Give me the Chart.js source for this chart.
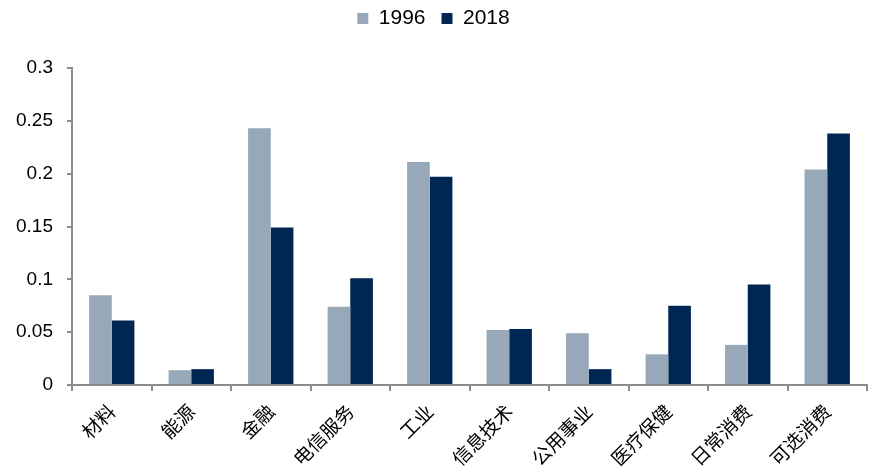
<!DOCTYPE html>
<html>
<head>
<meta charset="utf-8">
<script src="https://cdn.jsdelivr.net/npm/chart.js@4/dist/chart.umd.min.js"></script>
<style>
  body { margin: 0; background: #fff; }
  #wrap { width: 874px; height: 471px; }
</style>
</head>
<body>
<div id="wrap"><canvas id="sector-chart" width="874" height="471"></canvas></div>
<script>
// Sectors and weights per year
const sectors = ['材料', '能源', '金融', '电信服务', '工业', '信息技术', '公用事业', '医疗保健', '日常消费', '可选消费'];
const weights1996 = [0.085, 0.014, 0.243, 0.074, 0.211, 0.052, 0.049, 0.029, 0.038, 0.204];
const weights2018 = [0.061, 0.015, 0.149, 0.101, 0.197, 0.053, 0.015, 0.075, 0.095, 0.238];
const yTicks = [0, 0.05, 0.1, 0.15, 0.2, 0.25, 0.3];

const axisColor = '#8c8c8c';
const numFont = 'Arial, "Liberation Sans", sans-serif';

// Extra gap under the legend row
const legendGap = {
    id: 'legendGap',
    beforeUpdate(chart) {
        const legend = chart.legend;
        if (legend && !legend._gapPatched) {
            const fit = legend.fit;
            legend.fit = function () {
                fit.call(this);
                this.height += 29;
            };
            legend._gapPatched = true;
        }
    }
};

const ctx = document.getElementById('sector-chart');

const myChart = new Chart(ctx, {
    type: 'bar',
    data: {
        labels: sectors,
        datasets: [{
            label: '1996',
            data: weights1996,
            backgroundColor: '#97a8b9',
            categoryPercentage: 0.57,
            barPercentage: 1
        }, {
            label: '2018',
            data: weights2018,
            backgroundColor: '#002654',
            categoryPercentage: 0.57,
            barPercentage: 1
        }]
    },
    plugins: [legendGap],
    options: {
        responsive: false,
        animation: false,
        layout: { padding: { left: 0, right: 7, top: -8, bottom: 0 } },
        plugins: {
            tooltip: { enabled: false },
            legend: {
                position: 'top',
                labels: {
                    boxWidth: 11,
                    boxHeight: 11,
                    padding: 16,
                    color: '#000',
                    font: { family: numFont, size: 21 }
                }
            }
        },
        scales: {
            x: {
                border: { color: axisColor, width: 2 },
                grid: { display: true, drawOnChartArea: false, drawTicks: true, tickLength: 6, color: axisColor, lineWidth: 2, offset: true },
                ticks: {
                    minRotation: 45,
                    maxRotation: 45,
                    color: '#000',
                    padding: 9,
                    font: { family: '"Noto Sans CJK SC", sans-serif', size: 19 }
                },
                afterFit: scale => { scale.height = 86; }
            },
            y: {
                min: 0,
                max: 0.3,
                border: { color: axisColor, width: 2 },
                grid: { display: true, drawOnChartArea: false, drawTicks: true, tickLength: 5, color: axisColor, lineWidth: 2 },
                afterBuildTicks: scale => { scale.ticks = yTicks.map(v => ({ value: v })); },
                ticks: {
                    color: '#000',
                    padding: 14,
                    font: { family: numFont, size: 19 },
                    callback: value => String(+value.toFixed(2))
                },
                afterFit: scale => { scale.width = 72; }
            }
        }
    }
});
</script>
</body>
</html>
